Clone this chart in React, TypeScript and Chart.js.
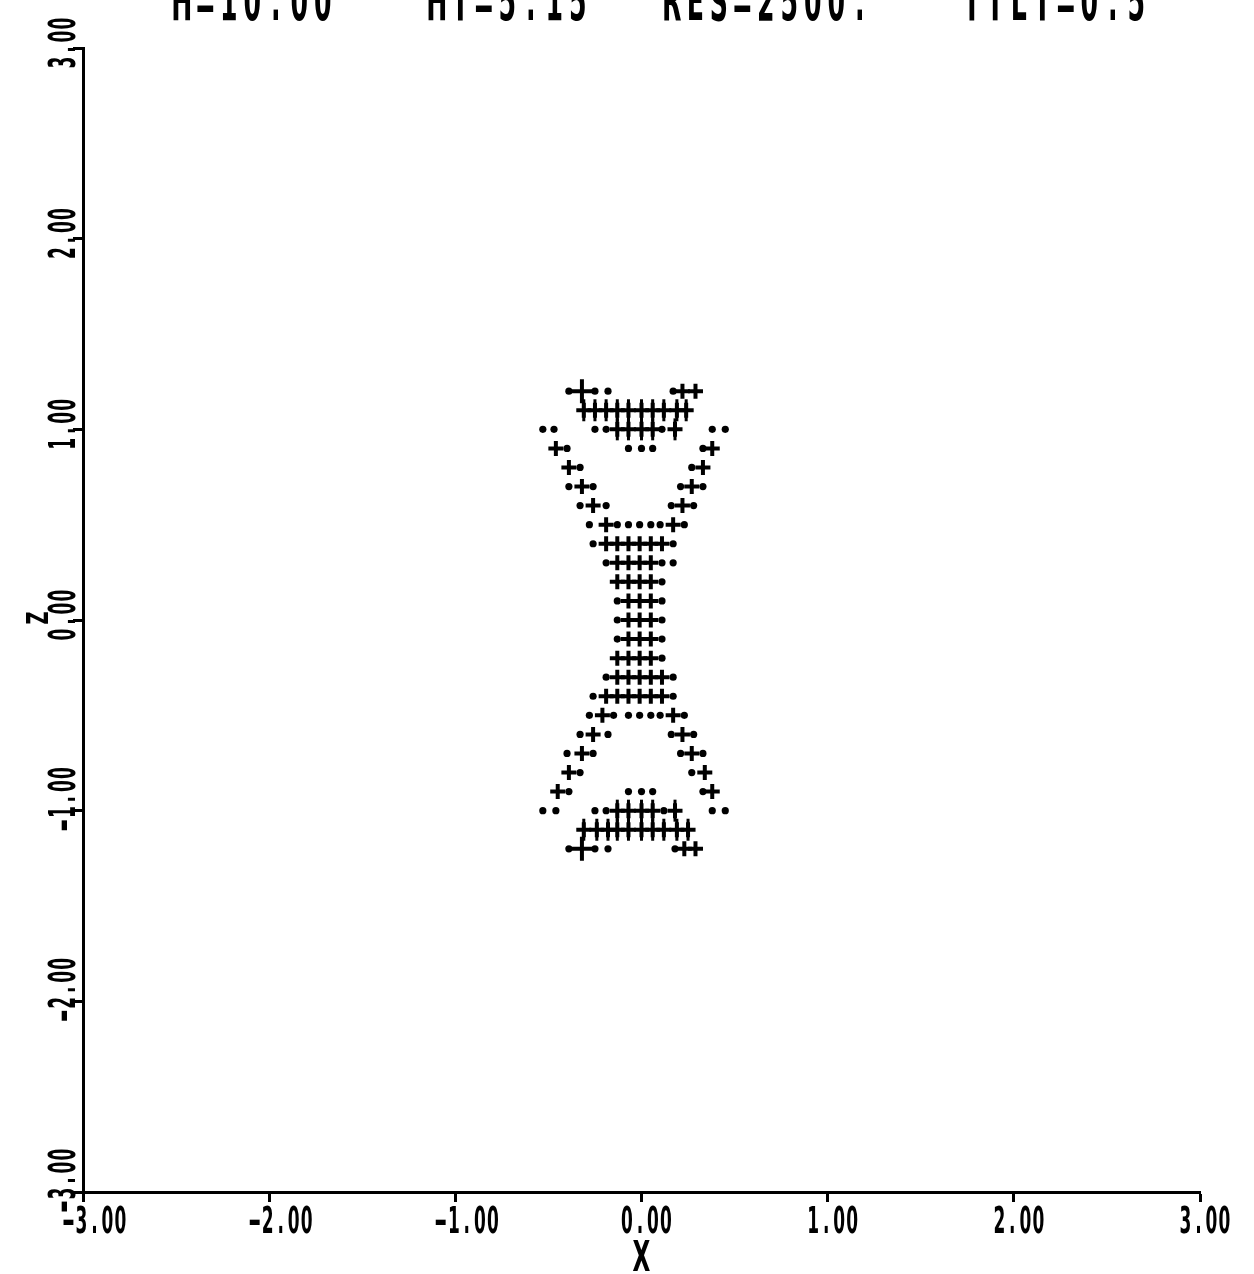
import React, { useEffect, useRef } from 'react';
import { Chart, registerables } from 'chart.js';

Chart.register(...registerables);

// ---- axis ticks & labels ----
const xTicks = [-3, -2, -1, 0, 1, 2, 3];
const zTicks = [-3, -2, -1, 0, 1, 2, 3];
const xTickLabels = ['-3.00', '-2.00', '-1.00', '0.00', '1.00', '2.00', '3.00'];
const zTickLabels = ['-3.00', '-2.00', '-1.00', '0.00', '1.00', '2.00', '3.00'];
const xTitle = 'X';
const zTitle = 'Z';
const titleParts = ['H=10.00', 'HT=5.15', 'RES=2500.', 'TILT=0.5'];

// ---- data: [x, z] ----
const bigCrossPts: number[][] = [
  [-0.32, 1.2],
  [-0.32, -1.2],
];

const crossPts: number[][] = [
  [0.22, 1.2], [0.29, 1.2],
  [-0.31, 1.1], [-0.25, 1.1], [-0.19, 1.1], [-0.13, 1.1], [-0.07, 1.1], [0.0, 1.1], [0.06, 1.1], [0.12, 1.1], [0.19, 1.1], [0.24, 1.1],
  [-0.13, 1.0], [-0.07, 1.0], [0.0, 1.0], [0.06, 1.0], [0.18, 1.0],
  [-0.46, 0.9], [0.38, 0.9],
  [-0.39, 0.8], [0.33, 0.8],
  [-0.32, 0.7], [0.27, 0.7],
  [-0.26, 0.6], [0.22, 0.6],
  [-0.19, 0.5], [0.17, 0.5],
  [-0.19, 0.4], [-0.13, 0.4], [-0.07, 0.4], [-0.01, 0.4], [0.05, 0.4], [0.11, 0.4],
  [-0.13, 0.3], [-0.07, 0.3], [-0.01, 0.3], [0.05, 0.3],
  [-0.13, 0.2], [-0.07, 0.2], [-0.01, 0.2], [0.05, 0.2],
  [-0.07, 0.1], [-0.01, 0.1], [0.05, 0.1],
  [-0.07, 0.0], [-0.01, 0.0], [0.05, 0.0],
  [-0.07, -0.1], [-0.01, -0.1], [0.05, -0.1],
  [-0.13, -0.2], [-0.07, -0.2], [-0.01, -0.2], [0.05, -0.2],
  [-0.13, -0.3], [-0.07, -0.3], [-0.01, -0.3], [0.05, -0.3], [0.11, -0.3],
  [-0.19, -0.4], [-0.13, -0.4], [-0.07, -0.4], [-0.01, -0.4], [0.05, -0.4], [0.11, -0.4],
  [-0.21, -0.5], [0.17, -0.5],
  [-0.26, -0.6], [0.22, -0.6],
  [-0.32, -0.7], [0.27, -0.7],
  [-0.39, -0.8], [0.34, -0.8],
  [-0.45, -0.9], [0.38, -0.9],
  [-0.13, -1.0], [-0.07, -1.0], [0.0, -1.0], [0.06, -1.0], [0.18, -1.0],
  [-0.31, -1.1], [-0.24, -1.1], [-0.18, -1.1], [-0.13, -1.1], [-0.07, -1.1], [0.0, -1.1], [0.06, -1.1], [0.12, -1.1], [0.19, -1.1], [0.25, -1.1],
  [0.23, -1.2], [0.29, -1.2],
];

const dotPts: number[][] = [
  [-0.39, 1.2], [-0.25, 1.2], [-0.18, 1.2], [0.17, 1.2],
  [-0.53, 1.0], [-0.47, 1.0], [-0.25, 1.0], [-0.19, 1.0], [0.11, 1.0], [0.38, 1.0], [0.45, 1.0],
  [-0.4, 0.9], [-0.07, 0.9], [0.0, 0.9], [0.06, 0.9], [0.33, 0.9],
  [-0.33, 0.8], [0.27, 0.8],
  [-0.39, 0.7], [-0.26, 0.7], [0.21, 0.7], [0.33, 0.7],
  [-0.33, 0.6], [-0.19, 0.6], [0.16, 0.6], [0.28, 0.6],
  [-0.28, 0.5], [-0.13, 0.5], [-0.07, 0.5], [-0.01, 0.5], [0.05, 0.5], [0.1, 0.5], [0.23, 0.5],
  [-0.26, 0.4], [0.17, 0.4],
  [-0.19, 0.3], [0.11, 0.3], [0.17, 0.3],
  [0.11, 0.2],
  [-0.13, 0.1], [0.11, 0.1],
  [-0.13, 0.0], [0.11, 0.0],
  [-0.13, -0.1], [0.11, -0.1],
  [0.11, -0.2],
  [-0.19, -0.3], [0.17, -0.3],
  [-0.26, -0.4], [0.17, -0.4],
  [-0.28, -0.5], [-0.15, -0.5], [-0.07, -0.5], [-0.01, -0.5], [0.05, -0.5], [0.1, -0.5], [0.23, -0.5],
  [-0.33, -0.6], [-0.18, -0.6], [0.16, -0.6], [0.28, -0.6],
  [-0.4, -0.7], [-0.26, -0.7], [0.21, -0.7], [0.33, -0.7],
  [-0.33, -0.8], [0.27, -0.8],
  [-0.39, -0.9], [-0.07, -0.9], [0.0, -0.9], [0.06, -0.9], [0.33, -0.9],
  [-0.53, -1.0], [-0.46, -1.0], [-0.25, -1.0], [-0.19, -1.0], [0.12, -1.0], [0.38, -1.0], [0.45, -1.0],
  [-0.39, -1.2], [-0.25, -1.2], [-0.18, -1.2], [0.18, -1.2],
];

// tall vertical strokes on the crosses of the end caps
const stemPts = crossPts.filter((p) => Math.abs(p[1]) >= 0.95 && Math.abs(p[1]) <= 1.15);

const toXY = (arr: number[][]) => arr.map((p) => ({ x: p[0], y: p[1] }));

const FONT = '"DejaVu Sans", "Liberation Sans", sans-serif';

// draws a string on a fixed character grid (plotter style), starting at the current origin
function monoText(ctx: CanvasRenderingContext2D, s: string, adv: number, sx: number) {
  ctx.textAlign = 'center';
  for (let k = 0; k < s.length; k++) {
    const c = s[k];
    ctx.save();
    ctx.translate((k + 0.5) * adv, 0);
    ctx.scale(c === '-' ? sx * 1.9 : sx, 1);
    ctx.fillText(c, 0, 0);
    ctx.restore();
  }
}

const textPlugin = {
  id: 'plotterText',
  afterDraw(chart: any) {
    const ctx = chart.ctx as CanvasRenderingContext2D;
    const xs = chart.scales.x;
    const ys = chart.scales.y;
    ctx.save();
    ctx.fillStyle = '#000';
    ctx.textBaseline = 'alphabetic';
    ctx.font = `bold 37px ${FONT}`;
    xTicks.forEach((v, i) => {
      const px = xs.getPixelForValue(v);
      ctx.save();
      ctx.translate(px - 21, 1233);
      monoText(ctx, xTickLabels[i], 13, 0.46);
      ctx.restore();
    });
    zTicks.forEach((v, i) => {
      const py = ys.getPixelForValue(v);
      ctx.save();
      ctx.translate(75, py + 21);
      ctx.rotate(-Math.PI / 2);
      monoText(ctx, zTickLabels[i], 13, 0.46);
      ctx.restore();
    });
    // axis titles
    ctx.save();
    ctx.font = `bold 42px ${FONT}`;
    ctx.translate(xs.getPixelForValue(0) - 9, 1271);
    monoText(ctx, xTitle, 18, 0.55);
    ctx.restore();
    ctx.save();
    ctx.font = `bold 30px ${FONT}`;
    ctx.translate(48, ys.getPixelForValue(0) + 6);
    ctx.rotate(-Math.PI / 2);
    monoText(ctx, zTitle, 16, 0.6);
    ctx.restore();
    // header (cut off at the top of the page)
    ctx.font = `bold 56px ${FONT}`;
    const titleX = [170, 425, 660, 960];
    titleParts.forEach((t, i) => {
      ctx.save();
      ctx.translate(titleX[i], 20);
      monoText(ctx, t, 23.5, 0.45);
      ctx.restore();
    });
    ctx.restore();
  },
};

const axisOpts = {
  type: 'linear' as const,
  min: -3,
  max: 3,
  ticks: { stepSize: 1, display: false },
  grid: {
    drawOnChartArea: false,
    drawTicks: true,
    tickLength: 10,
    tickWidth: 3,
    tickColor: '#000',
  },
  border: { display: true, color: '#000', width: 3 },
};

export default function App() {
  const ref = useRef<HTMLCanvasElement | null>(null);
  useEffect(() => {
    if (!ref.current) return;
    const chart = new Chart(ref.current, {
      type: 'scatter',
      data: {
        datasets: [
          {
            data: toXY(dotPts),
            pointStyle: 'circle',
            pointRadius: 3.6,
            pointBackgroundColor: '#000',
            pointBorderColor: '#000',
            pointBorderWidth: 0,
          },
          {
            data: toXY(crossPts),
            pointStyle: 'cross',
            pointRadius: 7.5,
            pointBorderColor: '#000',
            pointBorderWidth: 4,
          },
          {
            data: toXY(stemPts),
            pointStyle: 'line',
            pointRotation: 90,
            pointRadius: 11,
            pointBorderColor: '#000',
            pointBorderWidth: 3,
          },
          {
            data: toXY(bigCrossPts),
            pointStyle: 'cross',
            pointRadius: 12,
            pointBorderColor: '#000',
            pointBorderWidth: 4,
          },
        ],
      },
      options: {
        animation: false,
        responsive: false,
        events: [],
        layout: { padding: { left: 73, right: 54, top: 48, bottom: 72 } },
        plugins: {
          legend: { display: false },
          tooltip: { enabled: false },
          title: { display: false },
        },
        scales: {
          x: { ...axisOpts },
          y: { ...axisOpts },
        },
      },
      plugins: [textPlugin],
    } as any);
    return () => chart.destroy();
  }, []);
  return (
    <canvas
      ref={ref}
      width={1254}
      height={1274}
      style={{ position: 'fixed', top: 0, left: 0, width: 1254, height: 1274, background: '#fff' }}
    />
  );
}
